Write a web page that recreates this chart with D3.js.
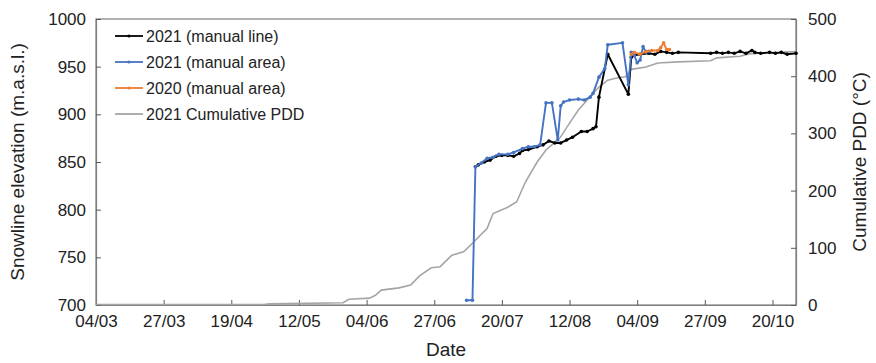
<!DOCTYPE html>
<html><head><meta charset="utf-8">
<script src="https://cdn.jsdelivr.net/npm/d3@7"></script>
<style>body{margin:0;background:#fff}svg{display:block}text{font-family:"Liberation Sans",Arial,sans-serif;fill:#222}</style>
</head><body><svg id="c" width="876" height="363"></svg>
<script>
const xTickLabels = ["04/03","27/03","19/04","12/05","04/06","27/06","20/07","12/08","04/09","27/09","20/10"];
const leftTicks = [700,750,800,850,900,950,1000];
const rightTicks = [0,100,200,300,400,500];
const seriesNames = ["2021 (manual line)","2021 (manual area)","2020 (manual area)","2021 Cumulative PDD"];

const manualLine2021 = [
["2021-07-11",845],["2021-07-12",847],["2021-07-14",850],["2021-07-16",852],["2021-07-18",856],["2021-07-20",857],
["2021-07-22",857],["2021-07-24",856],["2021-07-26",859],["2021-07-27",862],["2021-07-29",863],["2021-08-01",866],
["2021-08-03",868],["2021-08-05",872],["2021-08-07",870],["2021-08-09",870],["2021-08-11",873],["2021-08-13",876],
["2021-08-16",882],["2021-08-18",882],["2021-08-20",885],["2021-08-21",887],["2021-08-22",918],["2021-08-25",963],
["2021-09-01",921],["2021-09-02",960],["2021-09-03",962],["2021-09-05",963],["2021-09-08",964],["2021-09-10",963],
["2021-09-12",966],["2021-09-14",965],["2021-09-16",964],["2021-09-18",965],["2021-09-29",964],["2021-10-01",965],
["2021-10-03",964],["2021-10-05",965],["2021-10-07",964],["2021-10-09",966],["2021-10-11",964],["2021-10-13",967],
["2021-10-14",965],["2021-10-16",964],["2021-10-19",965],["2021-10-21",964],["2021-10-23",965],["2021-10-25",963],
["2021-10-28",964]];

const manualArea2021 = [
["2021-07-08",705],["2021-07-10",705],["2021-07-11",845],["2021-07-13",849],["2021-07-15",854],["2021-07-17",855],
["2021-07-19",858],["2021-07-22",858],["2021-07-24",860],["2021-07-27",864],["2021-07-29",866],["2021-07-31",866],
["2021-08-02",868],["2021-08-04",912],["2021-08-06",912],["2021-08-08",873],["2021-08-09",909],["2021-08-10",913],
["2021-08-12",915],["2021-08-15",916],["2021-08-17",915],["2021-08-19",918],["2021-08-20",922],["2021-08-22",939],
["2021-08-24",948],["2021-08-25",973],["2021-08-30",975],["2021-09-01",931],["2021-09-02",965],["2021-09-03",962],
["2021-09-04",954],["2021-09-05",957],["2021-09-06",971],["2021-09-07",965],["2021-09-08",966]];

const manualArea2020 = [
["2021-09-02",963],["2021-09-03",965],["2021-09-05",963],["2021-09-07",966],["2021-09-09",967],["2021-09-11",967],
["2021-09-12",970],["2021-09-13",975],["2021-09-14",968],["2021-09-15",968]];

const cumulativePDD2021 = [
["2021-03-04",1],["2021-04-30",1],["2021-05-02",2],["2021-05-27",4],["2021-05-29",10],["2021-06-05",12],
["2021-06-07",17],["2021-06-09",26],["2021-06-15",30],["2021-06-19",35],["2021-06-22",51],["2021-06-26",65],
["2021-06-29",67],["2021-07-03",87],["2021-07-07",93],["2021-07-10",108],["2021-07-15",134],["2021-07-17",160],
["2021-07-22",171],["2021-07-25",180],["2021-07-28",215],["2021-08-01",250],["2021-08-04",271],["2021-08-06",280],
["2021-08-09",294],["2021-08-12",318],["2021-08-15",341],["2021-08-19",364],["2021-08-22",381],["2021-08-25",393],
["2021-08-28",397],["2021-08-31",399],["2021-09-02",412],["2021-09-07",416],["2021-09-11",423],["2021-09-18",425],
["2021-09-29",427],["2021-10-01",432],["2021-10-09",435],["2021-10-12",439],["2021-10-18",441],["2021-10-28",443]];

const colors = ["#000000","#4472C4","#ED7D31","#A5A5A5"];
const parse = d3.utcParse("%Y-%m-%d");
const L = 96, R = 796, T = 19, B = 305;
const svg = d3.select("#c");
const x = d3.scaleUtc().domain([parse("2021-03-04"), parse("2021-10-28")]).range([L, R]);
const yL = d3.scaleLinear().domain([700,1000]).range([B, T]);
const yR = d3.scaleLinear().domain([0,500]).range([B, T]);
const xTicks = xTickLabels.map((s,i)=>d3.utcDay.offset(parse("2021-03-04"), 23*i));
const fmt = d3.utcFormat("%d/%m");

svg.append("rect").attr("x",L).attr("y",T).attr("width",R-L).attr("height",B-T).attr("fill","none").attr("stroke","#7f7f7f").attr("stroke-width",1.2);

const gx = svg.append("g").attr("transform",`translate(0,${B})`).call(d3.axisBottom(x).tickValues(xTicks).tickFormat(fmt).tickSizeInner(-5).tickSizeOuter(0).tickPadding(10));
const gl = svg.append("g").attr("transform",`translate(${L},0)`).call(d3.axisLeft(yL).tickValues(leftTicks).tickFormat(d3.format("d")).tickSizeInner(-5).tickSizeOuter(0).tickPadding(10));
const gr = svg.append("g").attr("transform",`translate(${R},0)`).call(d3.axisRight(yR).tickValues(rightTicks).tickFormat(d3.format("d")).tickSizeInner(-5).tickSizeOuter(0).tickPadding(12));
[gx,gl,gr].forEach(g=>{g.select(".domain").attr("stroke","#7f7f7f").attr("stroke-width",1.2);g.selectAll(".tick line").attr("stroke","#595959");g.selectAll("text").attr("font-size",17).attr("fill","#222").attr("font-family",'"Liberation Sans",Arial,sans-serif');});
gx.selectAll("text").attr("dy","0.71em");

const lineL = d3.line().x(d=>x(parse(d[0]))).y(d=>yL(d[1]));
const lineR = d3.line().x(d=>x(parse(d[0]))).y(d=>yR(d[1]));

svg.append("path").datum(cumulativePDD2021).attr("d",lineR).attr("fill","none").attr("stroke",colors[3]).attr("stroke-width",1.6);
function drawSeries(data,color){
  svg.append("path").datum(data).attr("d",lineL).attr("fill","none").attr("stroke",color).attr("stroke-width",1.9).attr("stroke-linejoin","round");
  svg.append("g").selectAll("circle").data(data).join("circle").attr("cx",d=>x(parse(d[0]))).attr("cy",d=>yL(d[1])).attr("r",1.8).attr("fill",color);
}
drawSeries(manualLine2021,colors[0]);
drawSeries(manualArea2021,colors[1]);
drawSeries(manualArea2020,colors[2]);

const lg = svg.append("g");
seriesNames.forEach((n,i)=>{
  const yy = 36 + i*26;
  lg.append("line").attr("x1",115).attr("x2",143).attr("y1",yy).attr("y2",yy).attr("stroke",colors[i]).attr("stroke-width",1.8);
  if(i<3) lg.append("circle").attr("cx",129).attr("cy",yy).attr("r",1.6).attr("fill",colors[i]);
  lg.append("text").attr("x",146).attr("y",yy).attr("dy","0.35em").attr("font-size",16).text(n);
});

svg.append("text").attr("x",(L+R)/2).attr("y",356).attr("text-anchor","middle").attr("font-size",19).text("Date");
svg.append("text").attr("transform",`translate(24,${(T+B)/2}) rotate(-90)`).attr("text-anchor","middle").attr("font-size",19).text("Snowline elevation (m.a.s.l.)");
svg.append("text").attr("transform",`translate(866,${(T+B)/2}) rotate(-90)`).attr("text-anchor","middle").attr("font-size",19).text("Cumulative PDD (°C)");
</script></body></html>
